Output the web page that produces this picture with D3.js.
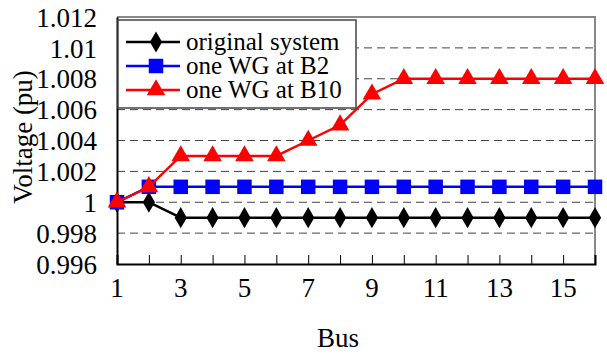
<!DOCTYPE html>
<html>
<head>
<meta charset="utf-8">
<script src="https://cdn.jsdelivr.net/npm/d3@7"></script>
<style>
  body { margin: 0; background: #fff; }
</style>
</head>
<body>
<div id="chart"></div>
<script>
const buses = [1, 2, 3, 4, 5, 6, 7, 8, 9, 10, 11, 12, 13, 14, 15, 16];
const original = [1.000, 1.000, 0.999, 0.999, 0.999, 0.999, 0.999, 0.999, 0.999, 0.999, 0.999, 0.999, 0.999, 0.999, 0.999, 0.999];
const wgB2 = [1.000, 1.001, 1.001, 1.001, 1.001, 1.001, 1.001, 1.001, 1.001, 1.001, 1.001, 1.001, 1.001, 1.001, 1.001, 1.001];
const wgB10 = [1.000, 1.001, 1.003, 1.003, 1.003, 1.003, 1.004, 1.005, 1.007, 1.008, 1.008, 1.008, 1.008, 1.008, 1.008, 1.008];
const yTicks = [0.996, 0.998, 1.000, 1.002, 1.004, 1.006, 1.008, 1.010, 1.012];
const xTickLabels = [1, 3, 5, 7, 9, 11, 13, 15];
const seriesNames = ["original system", "one WG at B2", "one WG at B10"];

const FONT = "'Liberation Serif', 'Times New Roman', serif";
const W = 607, H = 354;
const margin = {top: 17, right: 12, bottom: 90, left: 117};
const width = W - margin.left - margin.right;
const height = H - margin.top - margin.bottom;

const svg = d3.select("#chart").append("svg")
  .attr("width", W).attr("height", H);
const g = svg.append("g").attr("transform", `translate(${margin.left},${margin.top})`);

const x = d3.scaleLinear().domain([1, 16]).range([0, width]);
const y = d3.scaleLinear().domain([0.996, 1.012]).range([height, 0]);

// dashed gridlines
g.append("g").selectAll("line")
  .data(yTicks.filter(d => d > 0.9965 && d < 1.0115))
  .enter().append("line")
  .attr("x1", 0).attr("x2", width)
  .attr("y1", d => y(d)).attr("y2", d => y(d))
  .attr("stroke", "#444").attr("stroke-width", 1)
  .attr("stroke-dasharray", "8,5");

// frame top/right
g.append("path")
  .attr("d", `M0,${y(1.012)}H${width}V${height}`)
  .attr("fill", "none").attr("stroke", "#888").attr("stroke-width", 2);

// x axis
const xAxis = g.append("g").attr("transform", `translate(0,${height})`)
  .call(d3.axisBottom(x).tickValues(buses).tickSize(-9).tickFormat(""));
xAxis.select(".domain").attr("stroke", "#000").attr("stroke-width", 2);
xAxis.selectAll(".tick line").attr("stroke", "#000").attr("stroke-width", 1);

g.append("g").selectAll("text")
  .data(xTickLabels).enter().append("text")
  .attr("x", d => x(d)).attr("y", height + 33)
  .attr("text-anchor", "middle")
  .style("font-family", FONT).style("font-size", "27px")
  .text(d => d);

// y axis
const yAxis = g.append("g")
  .call(d3.axisLeft(y).tickValues(yTicks).tickSize(0).tickPadding(20)
    .tickFormat(d => d3.format(".3f")(d).replace(/\.?0+$/, "")));
yAxis.select(".domain").attr("stroke", "#000").attr("stroke-width", 2);
yAxis.selectAll("text")
  .style("font-family", FONT).style("font-size", "27px")
  .attr("fill", "#000").attr("dy", "0.34em");

// axis titles
svg.append("text")
  .attr("x", 338).attr("y", 347)
  .attr("text-anchor", "middle")
  .style("font-family", FONT).style("font-size", "27px")
  .text("Bus");
svg.append("text")
  .attr("transform", "translate(32,137) rotate(-90)")
  .attr("text-anchor", "middle")
  .style("font-family", FONT).style("font-size", "27px")
  .text("Voltage (pu)");

const series = [
  {name: seriesNames[0], values: original, color: "#000000", shape: d3.symbolDiamond, size: 130},
  {name: seriesNames[1], values: wgB2, color: "#0000ff", shape: d3.symbolSquare, size: 210},
  {name: seriesNames[2], values: wgB10, color: "#ff0000", shape: d3.symbolTriangle, size: 150}
];

const line = d3.line().x((d, i) => x(buses[i])).y(d => y(d));

series.forEach(s => {
  g.append("path")
    .datum(s.values)
    .attr("d", line)
    .attr("fill", "none").attr("stroke", s.color).attr("stroke-width", 2.5);
  g.append("g").selectAll("path")
    .data(s.values).enter().append("path")
    .attr("transform", (d, i) => `translate(${x(buses[i])},${y(d)})`)
    .attr("d", d3.symbol().type(s.shape).size(s.size))
    .attr("fill", s.color);
});

// legend
const legend = svg.append("g").attr("transform", "translate(118,20)");
legend.append("rect")
  .attr("width", 238).attr("height", 88)
  .attr("fill", "#fff").attr("stroke", "#444").attr("stroke-width", 1.5);
series.forEach((s, i) => {
  const row = legend.append("g").attr("transform", `translate(0,${22 + i * 24})`);
  row.append("line").attr("x1", 8).attr("x2", 62)
    .attr("stroke", s.color).attr("stroke-width", 2.5);
  row.append("path").attr("transform", "translate(38,0)")
    .attr("d", d3.symbol().type(s.shape).size(s.size)).attr("fill", s.color);
  row.append("text").attr("x", 68).attr("y", 0).attr("dy", "0.32em")
    .style("font-family", FONT).style("font-size", "25px")
    .text(s.name);
});
</script>
</body>
</html>
